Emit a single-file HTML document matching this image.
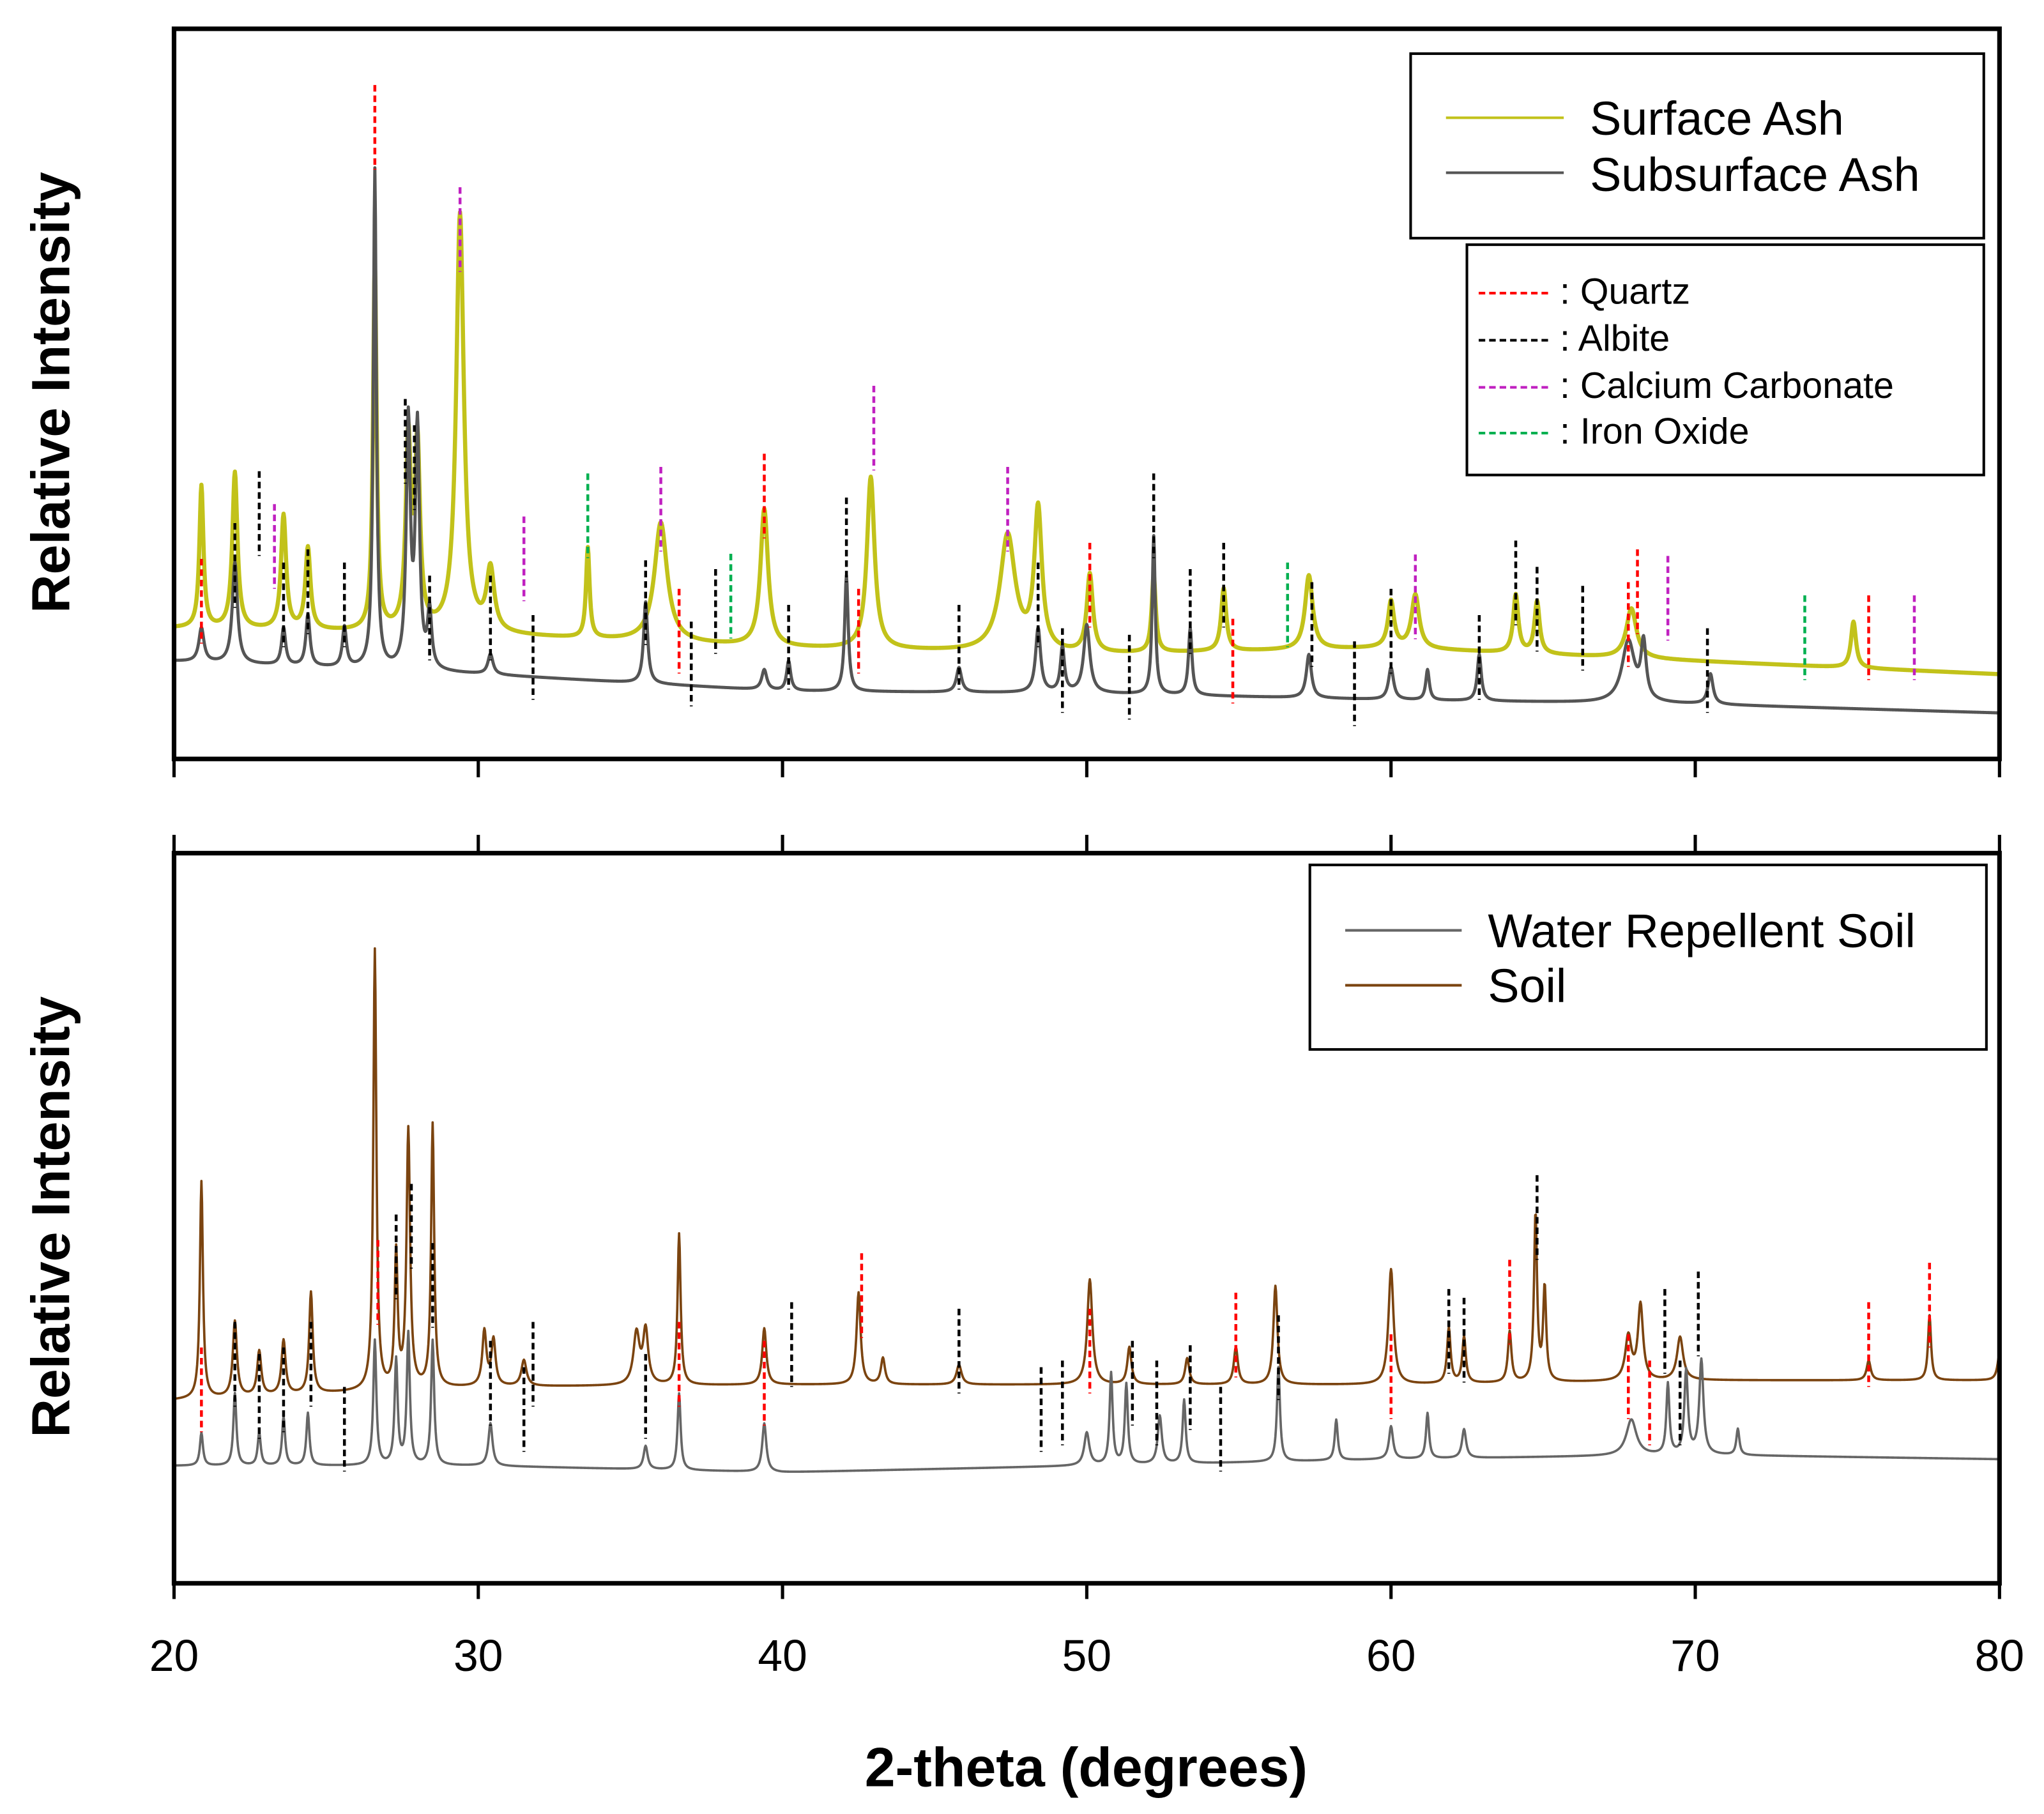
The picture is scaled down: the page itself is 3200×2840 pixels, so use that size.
<!DOCTYPE html>
<html><head><meta charset="utf-8"><style>
html,body{margin:0;padding:0;background:#fff}
svg{display:block}
text{font-family:"Liberation Sans",Arial,sans-serif}
</style></head><body>
<svg id="chart" width="3200" height="2840" viewBox="0 0 1562 1386.3" preserveAspectRatio="none" xmlns="http://www.w3.org/2000/svg">
<rect width="1562" height="1386.3" fill="#fff"/>
<g id="plots"></g>
<g id="frames">
<rect x="133" y="22" width="1395" height="558" fill="none" stroke="#000" stroke-width="3.5"/>
<rect x="133" y="652" width="1395" height="558" fill="none" stroke="#000" stroke-width="3.5"/>
</g>
<g id="axes"></g>
<text transform="translate(53,300) rotate(-90)" text-anchor="middle" font-size="41" font-weight="bold">Relative Intensity</text>
<text transform="translate(53,930) rotate(-90)" text-anchor="middle" font-size="41" font-weight="bold">Relative Intensity</text>
<text x="830" y="1365" text-anchor="middle" font-size="42" font-weight="bold">2-theta (degrees)</text>

<g>
<rect x="1078" y="41" width="438" height="141" fill="#fff" stroke="#000" stroke-width="2"/>
<line x1="1105" y1="90" x2="1195" y2="90" stroke="#c2c21a" stroke-width="2"/>
<text x="1215" y="103" font-size="36">Surface Ash</text>
<line x1="1105" y1="132" x2="1195" y2="132" stroke="#555" stroke-width="2"/>
<text x="1215" y="146" font-size="36">Subsurface Ash</text>
</g>
<g>
<rect x="1121" y="187" width="395" height="176" fill="#fff" stroke="#000" stroke-width="2"/>
<line x1="1130" y1="224" x2="1186" y2="224" stroke="#ff0000" stroke-width="2" stroke-dasharray="5 3"/>
<text x="1192" y="232" font-size="28">: Quartz</text>
<line x1="1130" y1="260" x2="1186" y2="260" stroke="#000" stroke-width="2" stroke-dasharray="5 3"/>
<text x="1192" y="268" font-size="28">: Albite</text>
<line x1="1130" y1="296" x2="1186" y2="296" stroke="#c020c0" stroke-width="2" stroke-dasharray="5 3"/>
<text x="1192" y="304" font-size="28">: Calcium Carbonate</text>
<line x1="1130" y1="331" x2="1186" y2="331" stroke="#00b050" stroke-width="2" stroke-dasharray="5 3"/>
<text x="1192" y="339" font-size="28">: Iron Oxide</text>
</g>
<g>
<rect x="1001" y="661" width="517" height="141" fill="#fff" stroke="#000" stroke-width="2"/>
<line x1="1028" y1="711" x2="1117" y2="711" stroke="#666" stroke-width="2"/>
<text x="1137" y="724" font-size="36">Water Repellent Soil</text>
<line x1="1028" y1="753" x2="1117" y2="753" stroke="#7b4410" stroke-width="2"/>
<text x="1137" y="766" font-size="36">Soil</text>
</g>
</svg>
<script>
// ---- data (intensity in % of panel height) ----
const xTicks = [20,30,40,50,60,70,80];
const surfBaseX = [20,30,40,50,60,70,80];
const surfBaseV = [17.9,17.0,15.2,14.3,15.2,13.4,11.6];
const surfPeakPos = [20.9,22.0,23.6,24.4,26.6,27.7,28.0,29.4,30.4,33.6,36.0,39.4,42.9,47.4,48.4,50.1,52.2,54.5,57.3,60.0,60.8,64.1,64.8,67.9,75.2];
const surfPeakTip = [37.3,39.1,33.2,28.7,68.1,43.0,42.1,74.4,25.4,28.7,32.3,34.1,38.5,30.5,33.7,25.1,25.1,23.3,25.1,21.5,22.4,22.4,21.5,20.6,18.8];
const surfPeakW   = [.08,.1,.1,.1,.07,.1,.1,.15,.15,.07,.25,.15,.15,.3,.15,.12,.08,.1,.15,.12,.15,.1,.1,.2,.1];
const subBaseV = [13.4,11.6,9.3,9.0,8.1,7.5,6.3];
const subPeakPos = [20.9,22.0,23.6,24.4,25.6,26.6,27.7,28.0,28.4,30.4,35.5,39.4,40.2,42.1,45.8,48.4,49.2,50.0,52.2,53.4,57.3,60.0,61.2,62.9,67.8,68.3,70.5];
const subPeakTip = [17.9,26.9,17.9,19.7,17.9,80.6,45.7,44.8,19.7,14.3,21.5,12.2,13.4,25.1,12.5,17.9,15.2,18.3,30.5,17.9,14.3,12.5,12.2,14.3,16.1,15.2,11.6];
const subPeakW   = [.1,.1,.08,.08,.08,.06,.08,.08,.08,.1,.08,.1,.08,.07,.1,.1,.08,.12,.06,.07,.1,.1,.07,.08,.25,.1,.1];
const soilBaseV = [25.1,26.9,27.2,27.2,27.2,27.8,27.8];
const soilPeakPos = [20.9,22.0,22.8,23.6,24.5,26.6,27.3,27.7,28.5,30.2,30.5,31.5,35.2,35.5,36.6,39.4,42.5,43.3,45.8,50.1,51.4,53.3,54.9,56.2,60.0,61.9,62.4,63.9,64.75,65.05,67.8,68.2,69.5,75.7,77.7,80];
const soilPeakTip = [55.0,35.8,31.7,33.2,39.8,86.6,44.8,61.8,62.7,34.4,33.2,30.5,34.1,34.4,47.8,34.9,39.8,30.8,29.9,41.6,32.3,30.8,32.3,40.7,43.0,34.9,33.7,34.4,50.5,40.3,33.7,38.0,33.7,30.5,36.7,31.4];
const soilPeakW   = [.06,.08,.08,.08,.07,.06,.06,.07,.06,.08,.08,.1,.12,.1,.06,.08,.08,.08,.1,.1,.08,.08,.08,.08,.1,.07,.07,.07,.06,.06,.12,.1,.12,.08,.06,.08];
const wrsBaseV = [16.1,16.1,15.2,16.1,17.0,17.6,17.0];
const wrsPeakPos = [20.9,22.0,22.8,23.6,24.4,26.6,27.3,27.7,28.5,30.4,35.5,36.6,39.4,50.0,50.8,51.3,52.4,53.2,56.3,58.2,60.0,61.2,62.4,67.9,69.1,69.7,70.2,71.4];
const wrsPeakTip = [20.6,26.0,20.6,22.8,23.3,33.2,30.5,34.1,33.2,21.9,18.8,26.0,21.9,20.6,28.7,27.2,22.9,25.1,29.6,22.4,21.5,23.3,21.1,22.4,27.2,29.0,30.5,21.1];
const wrsPeakW   = [.06,.06,.06,.06,.06,.06,.06,.06,.06,.08,.08,.06,.08,.1,.06,.06,.08,.06,.06,.06,.08,.06,.08,.2,.06,.07,.08,.06];
// reference marker lines: position and top intensity
const topQuartzPos = [20.9,26.6,36.6,39.4,42.5,50.1,54.8,67.8,68.1,75.7];
const topQuartzTop = [27.4,92.3,23.3,41.8,23.3,29.6,19.2,24.2,28.7,22.4];
const topAlbitePos = [22.0,22.8,23.6,24.4,25.6,27.6,27.9,28.4,30.4,31.8,35.5,37.0,37.8,40.2,42.1,45.8,48.4,49.2,51.4,52.2,53.4,54.5,57.4,58.8,60.0,62.9,64.1,64.8,66.3,70.4];
const topAlbiteTop = [32.3,39.4,26.9,28.7,26.9,49.3,45.7,25.1,25.1,19.7,27.2,18.8,26.0,21.1,35.8,21.1,26.9,17.9,17.0,39.1,26.0,29.6,24.2,16.1,23.3,19.7,29.9,26.3,23.7,17.9];
const topCarbPos = [23.3,29.4,31.5,36.0,43.0,47.4,60.8,69.1,77.2];
const topCarbTop = [34.9,78.3,33.2,40.0,51.1,40.0,28.0,27.8,22.4];
const topIronPos = [33.6,38.3,56.6,73.6];
const topIronTop = [39.1,28.1,26.9,22.4];
const botQuartzPos = [20.9,26.7,36.6,39.4,42.6,50.1,54.9,60.0,63.9,67.8,68.5,75.7,77.7];
const botQuartzTop = [32.3,47.0,35.8,33.2,45.2,37.6,39.8,34.1,44.3,34.1,30.5,38.5,43.9];
const botAlbitePos = [22.0,22.8,23.6,24.5,25.6,27.3,27.8,28.5,30.4,31.5,31.8,35.5,40.3,45.8,48.5,49.2,51.5,52.3,53.4,54.4,56.3,61.9,62.4,64.8,69.0,69.5,70.1];
const botAlbiteTop = [35.8,31.4,32.3,35.8,26.9,50.5,54.7,46.6,33.2,29.6,35.8,31.4,38.5,37.6,29.6,30.5,33.2,30.5,32.6,26.9,36.7,40.3,39.1,55.9,40.3,30.5,42.7];
const markerLen = 11.6;

// ---- drawing ----
const NS = 'http://www.w3.org/2000/svg';
const X0 = 133, X1 = 1528;
const sx = d => X0 + (d - 20) / 60 * (X1 - X0);
const syTop = v => 580 - v * 5.58;
const syBot = v => 1210 - v * 5.58;
const plots = document.getElementById('plots');
const axes = document.getElementById('axes');

function baseAt(bv, x) {
  for (let i = 0; i < surfBaseX.length - 1; i++) {
    if (x <= surfBaseX[i + 1]) {
      const t = (x - surfBaseX[i]) / (surfBaseX[i + 1] - surfBaseX[i]);
      return bv[i] + t * (bv[i + 1] - bv[i]);
    }
  }
  return bv[bv.length - 1];
}
function series(bv, pos, tip, w, sy, color, sw, name) {
  let d = '';
  for (let x = 20; x <= 80.0001; x += 0.02) {
    let v = baseAt(bv, x);
    for (let i = 0; i < pos.length; i++) {
      const h = tip[i] - baseAt(bv, pos[i]);
      const u = (x - pos[i]) / w[i];
      v += h / (1 + u * u);
    }
    d += (d ? 'L' : 'M') + sx(x).toFixed(2) + ',' + sy(v).toFixed(2);
  }
  const p = document.createElementNS(NS, 'path');
  p.setAttribute('d', d);
  p.setAttribute('fill', 'none');
  p.setAttribute('stroke', color);
  p.setAttribute('stroke-width', sw);
  p.setAttribute('stroke-linejoin', 'round');
  
  
  plots.appendChild(p);
}
function markers(pos, top, sy, color, name) {
  for (let i = 0; i < pos.length; i++) {
    const l = document.createElementNS(NS, 'line');
    l.setAttribute('x1', sx(pos[i])); l.setAttribute('x2', sx(pos[i]));
    l.setAttribute('y1', sy(top[i])); l.setAttribute('y2', sy(top[i] - markerLen));
    l.setAttribute('stroke', color); l.setAttribute('stroke-width', 2.2);
    l.setAttribute('stroke-dasharray', '5 3');
    
    
    plots.appendChild(l);
  }
}
series(surfBaseV, surfPeakPos, surfPeakTip, surfPeakW, syTop, '#c2c21a', 3.2, 'surface-ash-line');
series(subBaseV, subPeakPos, subPeakTip, subPeakW, syTop, '#555', 2.4, 'subsurface-ash-line');
series(soilBaseV, soilPeakPos, soilPeakTip, soilPeakW, syBot, '#7b4410', 1.8, 'soil-line');
series(wrsBaseV, wrsPeakPos, wrsPeakTip, wrsPeakW, syBot, '#666', 1.8, 'water-repellent-soil-line');
markers(topQuartzPos, topQuartzTop, syTop, '#ff0000', 'quartz-marker');
markers(topAlbitePos, topAlbiteTop, syTop, '#000', 'albite-marker');
markers(topCarbPos, topCarbTop, syTop, '#c020c0', 'calcium-carbonate-marker');
markers(topIronPos, topIronTop, syTop, '#00b050', 'iron-oxide-marker');
markers(botQuartzPos, botQuartzTop, syBot, '#ff0000', 'quartz-marker');
markers(botAlbitePos, botAlbiteTop, syBot, '#000', 'albite-marker');

xTicks.forEach(t => {
  const x = sx(t);
  [[580, 594], [652, 638], [1210, 1222]].forEach(([a, b]) => {
    const l = document.createElementNS(NS, 'line');
    l.setAttribute('x1', x); l.setAttribute('x2', x);
    l.setAttribute('y1', a); l.setAttribute('y2', b);
    l.setAttribute('stroke', '#000'); l.setAttribute('stroke-width', 2.5);
    
    
    axes.appendChild(l);
  });
  const tx = document.createElementNS(NS, 'text');
  tx.setAttribute('x', x); tx.setAttribute('y', 1277);
  tx.setAttribute('text-anchor', 'middle');
  tx.setAttribute('font-size', '34');
  tx.textContent = t;
  
  
  axes.appendChild(tx);
});
</script>
</body></html>
